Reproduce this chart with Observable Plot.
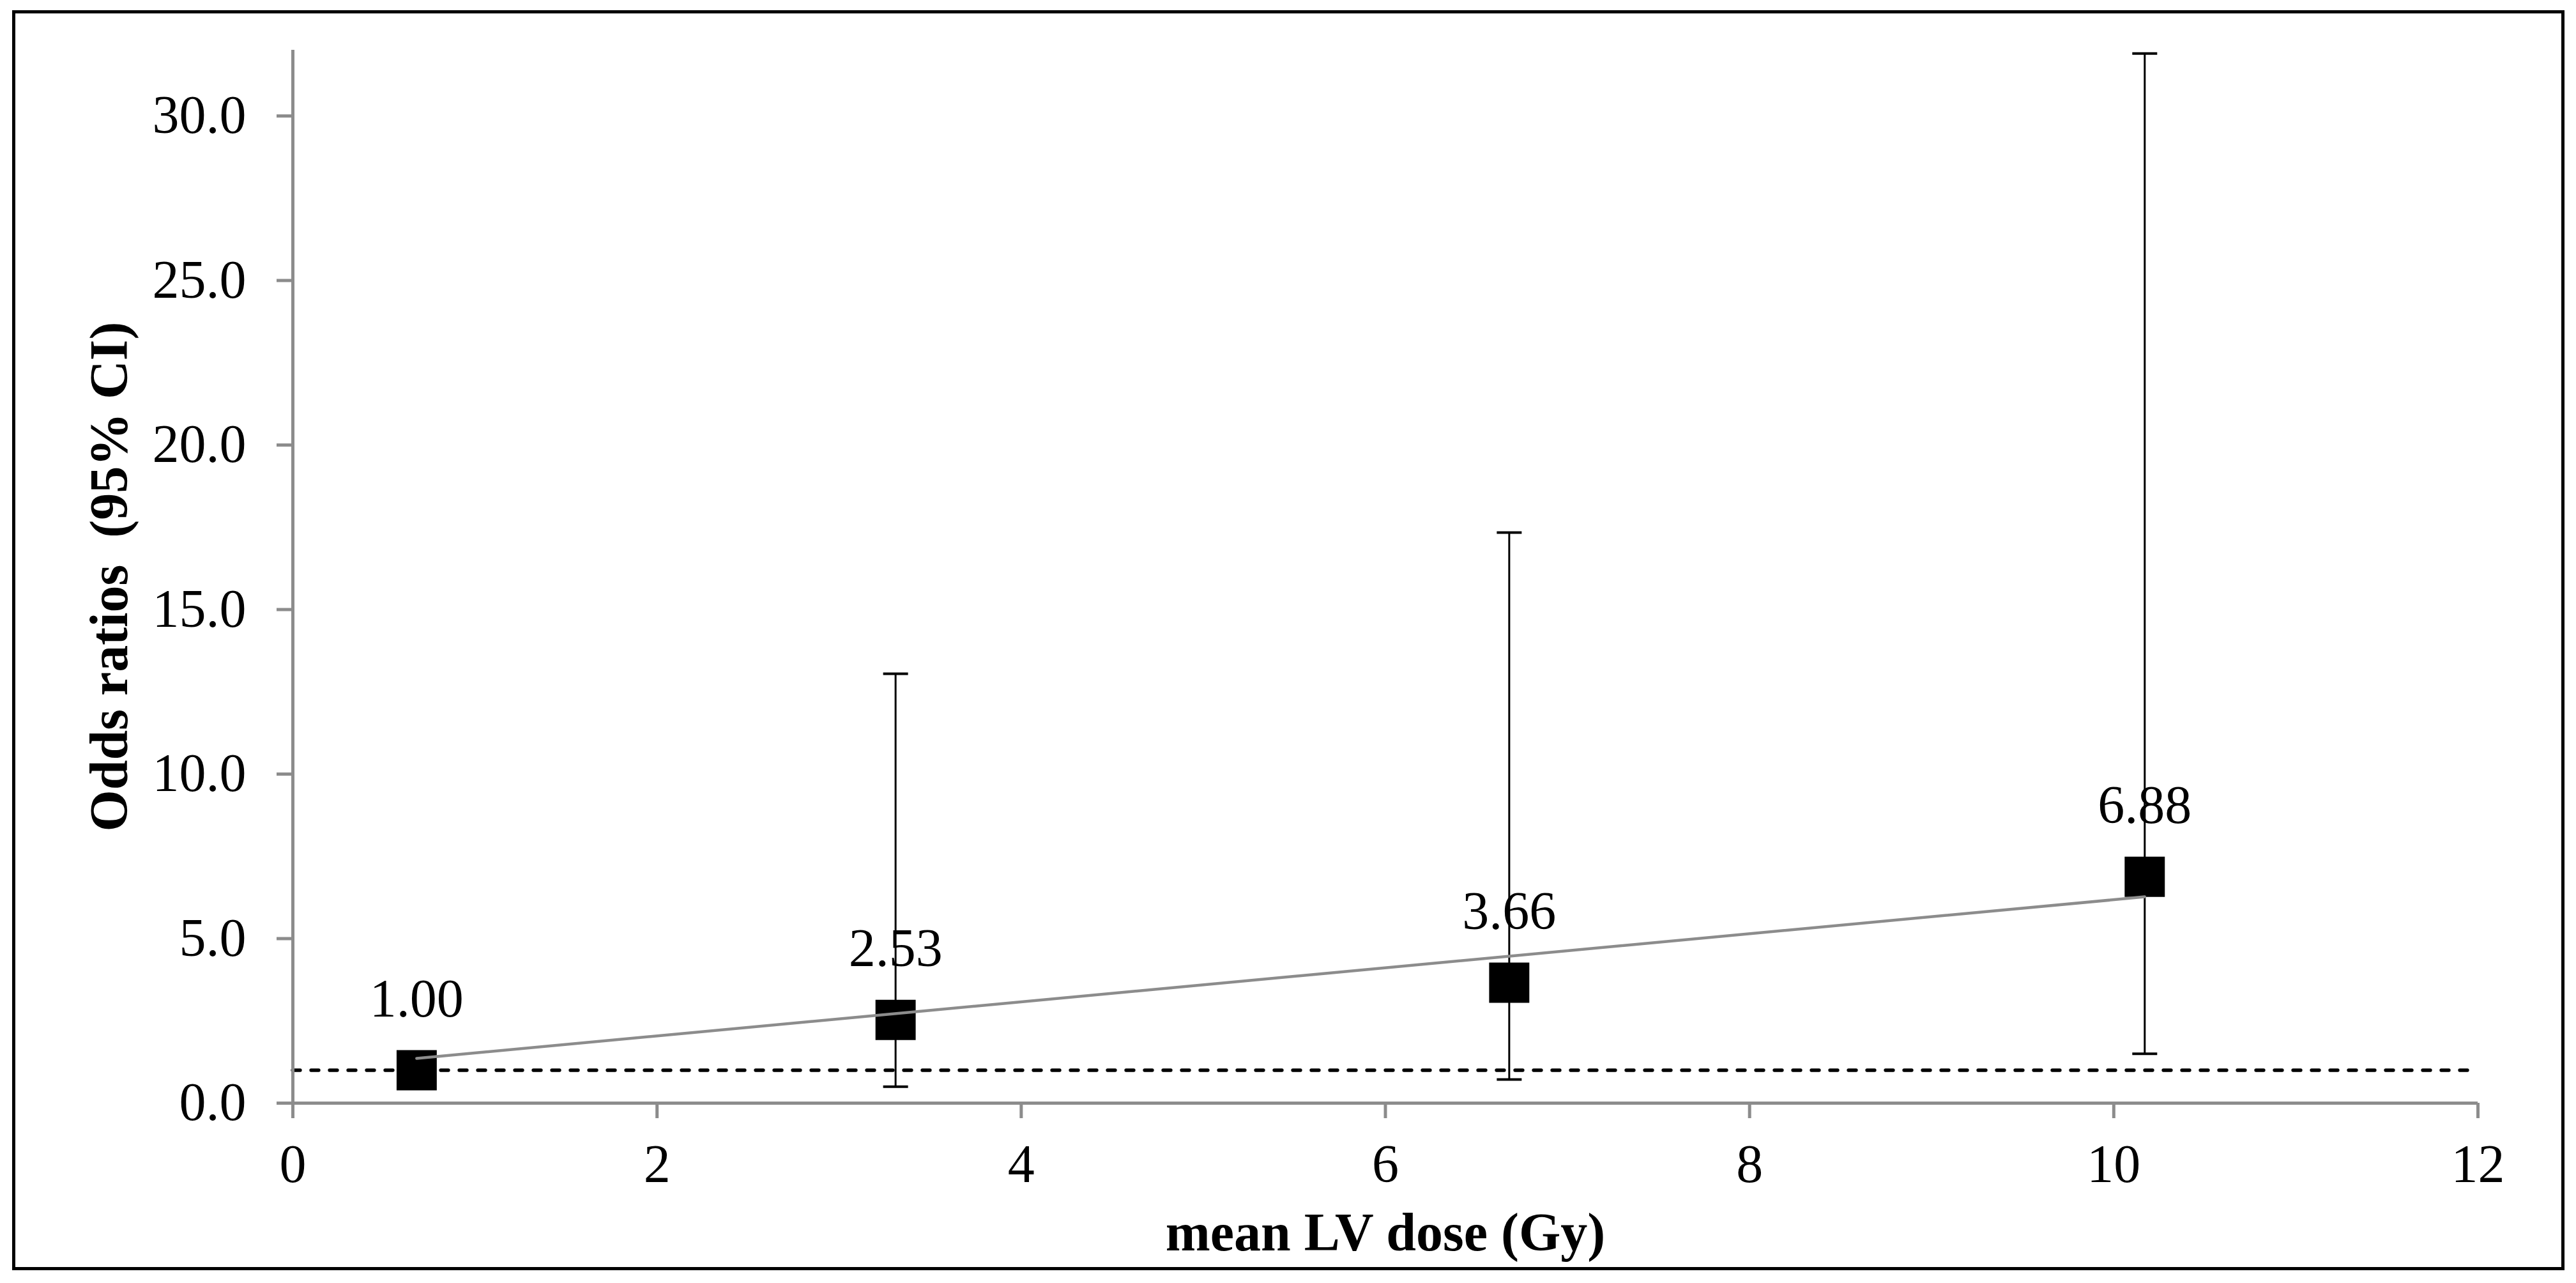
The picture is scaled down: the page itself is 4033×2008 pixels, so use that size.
<!DOCTYPE html>
<html><head><meta charset="utf-8">
<script src="https://cdn.jsdelivr.net/npm/d3@7"></script>
<script src="https://cdn.jsdelivr.net/npm/@observablehq/plot@0.6"></script>
<style>
html,body{margin:0;padding:0;background:#fff;}
#wrap{position:relative;width:4033px;height:2008px;overflow:hidden;}
#border{position:absolute;left:19px;top:16px;width:3996px;height:1972px;box-sizing:border-box;border:5px solid #000;}
#chart{position:absolute;left:0;top:0;}
</style></head><body>
<div id="wrap"><div id="border"></div><div id="chart"></div></div>
<script>
// ---- data ----
const doses      = [0.68, 3.31, 6.68, 10.17];
const oddsRatios = [1.00, 2.53, 3.66, 6.88];
const ciLower    = [null, 0.50, 0.72, 1.50];
const ciUpper    = [null, 13.05, 17.34, 31.9];
const trendX     = [0.68, 10.17];
const trendY     = [1.36, 6.27];
const xTicks     = [0, 2, 4, 6, 8, 10, 12];
const yTicks     = [0, 5, 10, 15, 20, 25, 30];
const referenceOR = 1;
const xTitle = "mean LV dose (Gy)";
const yTitle = "Odds ratios\u00A0\u00A0(95% CI)";

const points = doses.map((x, i) => ({x, y: oddsRatios[i], lo: ciLower[i], hi: ciUpper[i]}));
const bars = points.filter(d => d.lo != null);
const trend = trendX.map((x, i) => ({x, y: trendY[i]}));

const gray = "#8c8c8c";
const capSymbol = {draw(ctx, size) { const w = Math.sqrt(size); ctx.moveTo(-w / 2, 0); ctx.lineTo(w / 2, 0); }};

const chart = Plot.plot({
  width: 4033, height: 2008,
  marginLeft: 458, marginRight: 154, marginTop: 78, marginBottom: 282,
  style: {fontFamily: "'Liberation Serif', 'Times New Roman', serif", fontSize: "84px", color: "#000", background: "transparent", overflow: "visible"},
  x: {domain: [0, 12]},
  y: {domain: [0, 32]},
  marks: [
    Plot.ruleY([referenceOR], {stroke: "#000", strokeWidth: 5.3, strokeDasharray: "12,17", strokeLinecap: "round"}),
    Plot.ruleY([0], {stroke: gray, strokeWidth: 5}),
    Plot.ruleX([0], {stroke: gray, strokeWidth: 5}),
    Plot.axisY({ticks: yTicks, tickFormat: d3.format(".1f"), tickSize: 25, tickPadding: 48, stroke: gray, strokeWidth: 5, fill: "#000", label: null, fontSize: 84}),
    Plot.axisX({ticks: xTicks, tickFormat: d => String(d), tickSize: 24, tickPadding: 40, stroke: gray, strokeWidth: 5, fill: "#000", label: null, fontSize: 84}),
    Plot.ruleX(bars, {x: "x", y1: "lo", y2: "hi", stroke: "#000", strokeWidth: 3}),
    Plot.dot(bars, {x: "x", y: "lo", symbol: capSymbol, r: 22, stroke: "#000", fill: "none", strokeWidth: 4}),
    Plot.dot(bars, {x: "x", y: "hi", symbol: capSymbol, r: 22, stroke: "#000", fill: "none", strokeWidth: 4}),
    Plot.dot(points, {x: "x", y: "y", symbol: "square", r: 35.5, fill: "#000", stroke: "none"}),
    Plot.line(trend, {x: "x", y: "y", stroke: gray, strokeWidth: 4.5}),
    Plot.text(points, {x: "x", y: "y", text: d => d3.format(".2f")(d.y), lineAnchor: "bottom", dy: -84, fill: "#000", fontSize: 84}),
    Plot.text([xTitle], {frameAnchor: "bottom", dy: 230, lineAnchor: "bottom", fontWeight: "bold", fill: "#000", fontSize: 84}),
    Plot.text([yTitle], {frameAnchor: "left", dx: -260, rotate: -90, lineAnchor: "bottom", textAnchor: "middle", fontWeight: "bold", fill: "#000", fontSize: 84})
  ]
});
document.getElementById("chart").appendChild(chart);
</script>
</body></html>
